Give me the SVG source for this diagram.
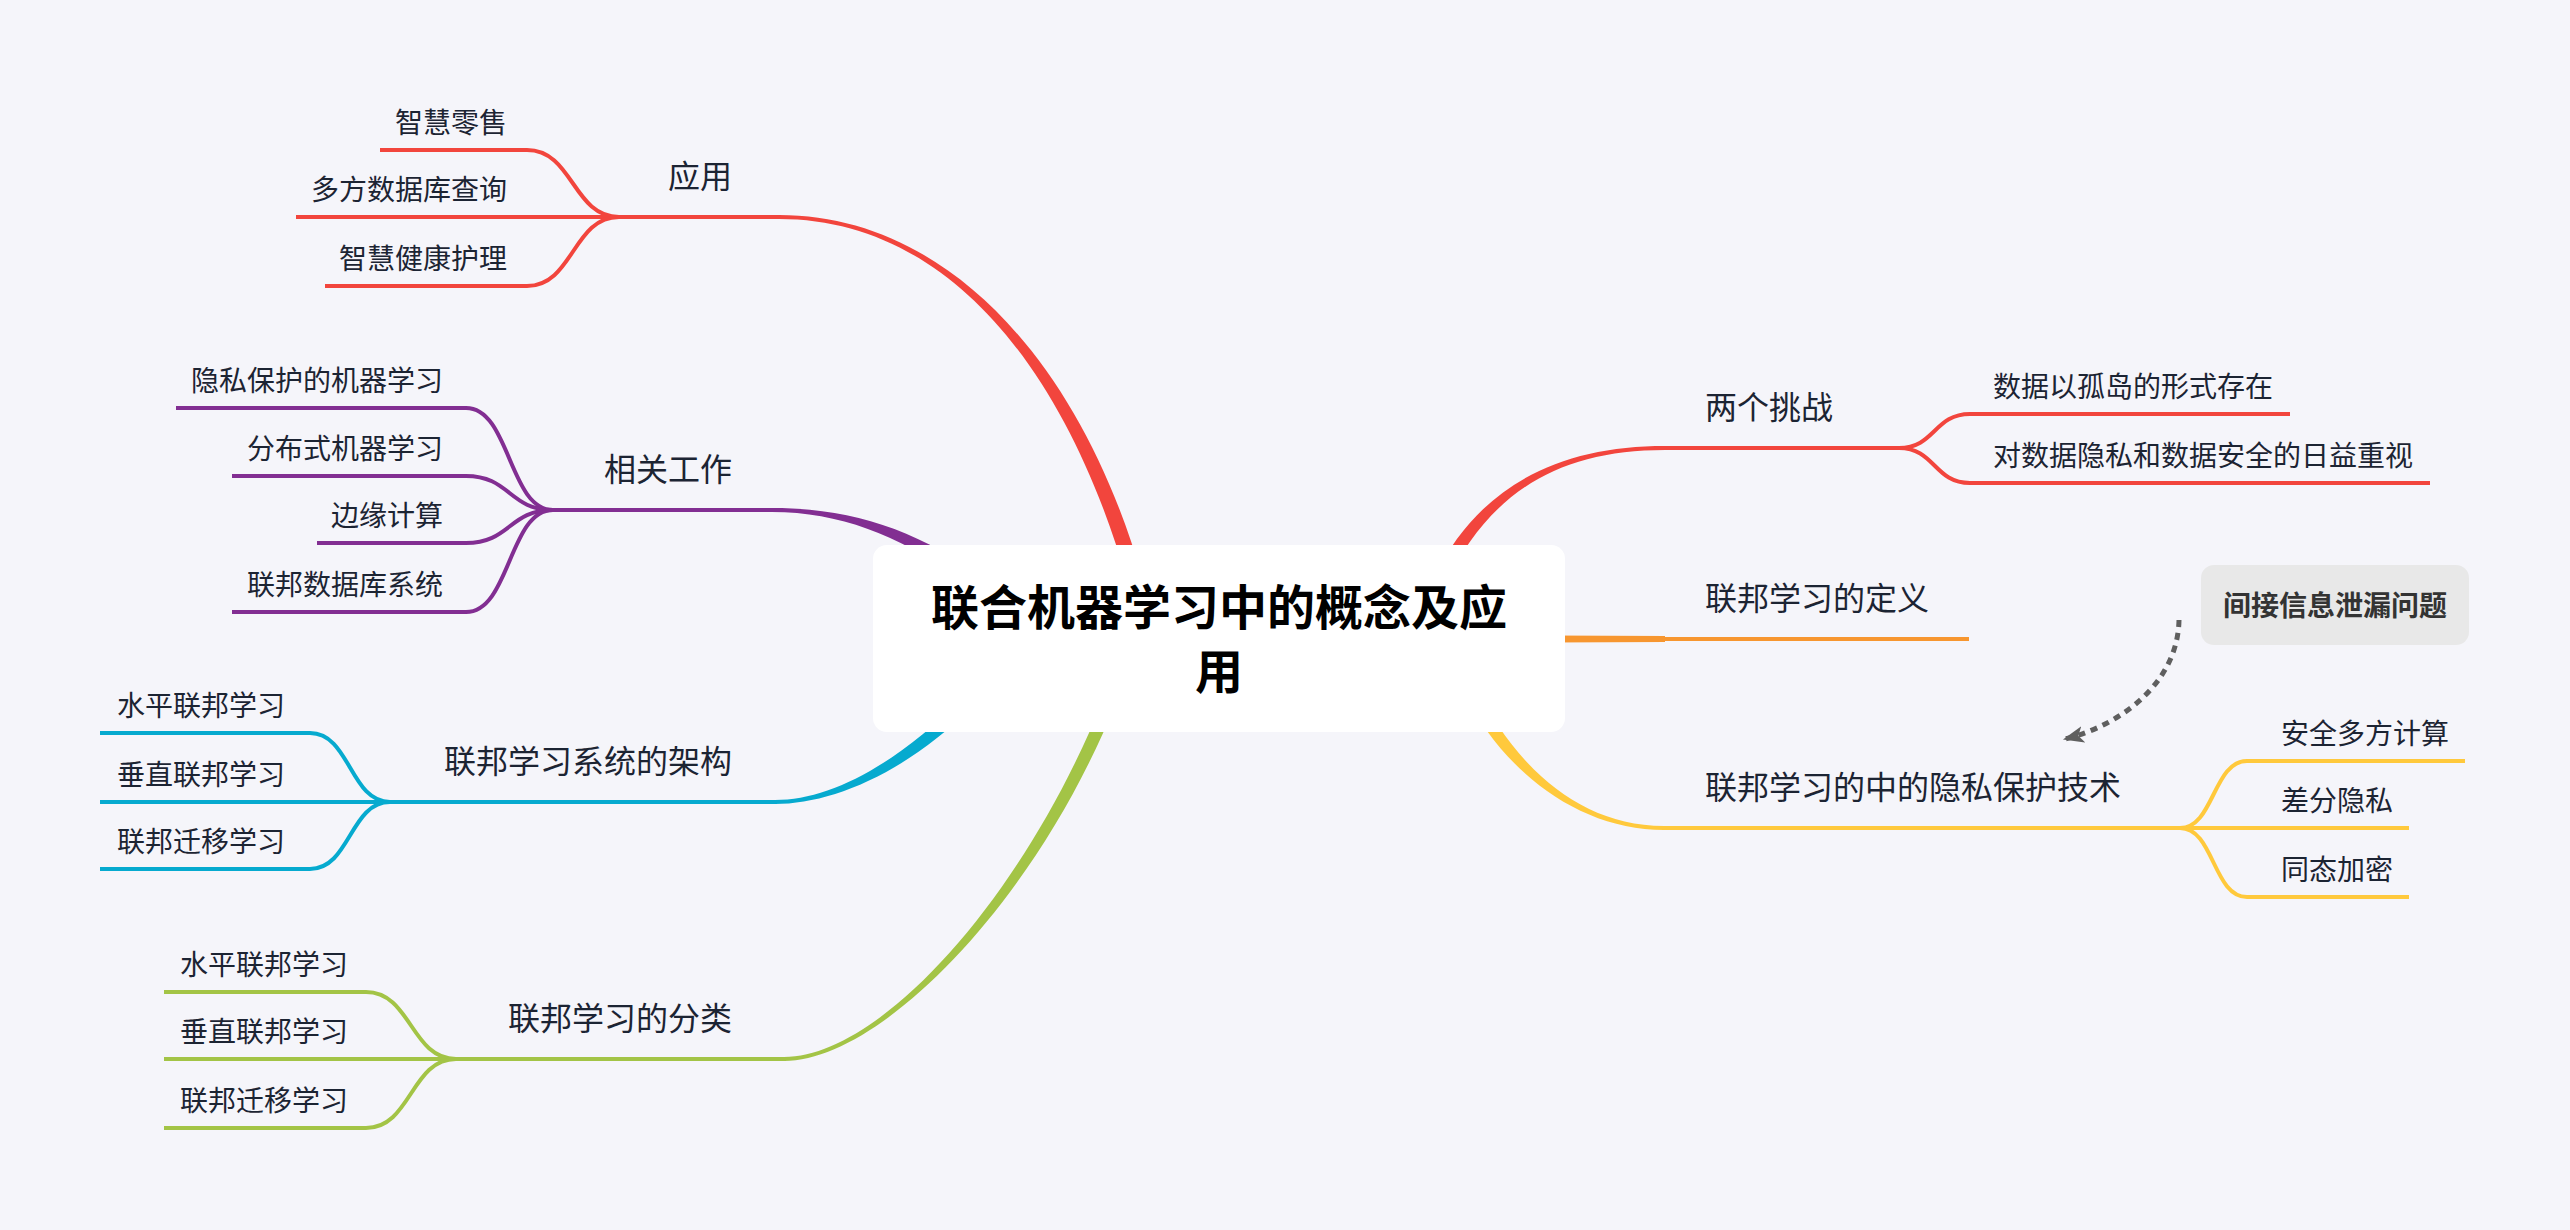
<svg xmlns="http://www.w3.org/2000/svg" width="2570" height="1230" viewBox="0 0 2570 1230">
<defs>
<style>
.t{font-family:"Noto Sans CJK SC","Noto Sans",sans-serif;fill:#1c2433}
.main{font-size:32px}
.sub{font-size:28px}
.ln{fill:none;stroke-width:4;stroke-linecap:butt}
.red{stroke:#f2453d}.redf{fill:#f2453d}
.pur{stroke:#822e92}.purf{fill:#822e92}
.cya{stroke:#06aacf}.cyaf{fill:#06aacf}
.grn{stroke:#a3c446}.grnf{fill:#a3c446}
.org{stroke:#f7962f}.orgf{fill:#f7962f}
.yel{stroke:#ffc93c}.yelf{fill:#ffc93c}
</style>
<marker id="ah" viewBox="0 0 20 16" refX="18" refY="8" markerWidth="21" markerHeight="17" markerUnits="userSpaceOnUse" orient="auto">
<path d="M0,0 L20,8 L0,16 L5,8 Z" fill="#5f5f5f"/>
</marker>
</defs>
<rect x="0" y="0" width="2570" height="1230" fill="#f5f5fa"/>
<g id="connectors">
<path class="redf" d="M779,219 C950,219 1067.8,372.8 1127.8,582.8 L1142.2,577.2 C1082.2,367.2 950,215 779,215 Z"/>
<path class="ln red" d="M619,217 H781"/>
<path class="ln red" d="M380,150 H527 C573,150 573,217 619,217"/>
<path class="ln red" d="M296,217 H619"/>
<path class="ln red" d="M325,286 H527 C573,286 573,217 619,217"/>
<path class="purf" d="M772,512 C840,512 896.4,535.4 956.4,575.4 L963.6,564.6 C903.6,524.6 840,508 772,508 Z"/>
<path class="ln pur" d="M553,510 H774"/>
<path class="ln pur" d="M176,408 H466 C510,408 509,510 553,510"/>
<path class="ln pur" d="M232,476 H466 C510,476 509,510 553,510"/>
<path class="ln pur" d="M317,543 H466 C510,543 509,510 553,510"/>
<path class="ln pur" d="M232,612 H466 C510,612 509,510 553,510"/>
<path class="cyaf" d="M775,804 C830,804 904.6,774.6 974.6,704.6 L965.4,695.4 C895.4,765.4 830,800 775,800 Z"/>
<path class="ln cya" d="M390,802 H777"/>
<path class="ln cya" d="M100,733 H310 C350,733 350,802 390,802"/>
<path class="ln cya" d="M100,802 H390"/>
<path class="ln cya" d="M100,869 H310 C350,869 350,802 390,802"/>
<path class="grnf" d="M784,1061 C880,1061 1036,902.4 1116,702.4 L1104,697.6 C1024,897.6 880,1057 784,1057 Z"/>
<path class="ln grn" d="M456,1059 H786"/>
<path class="ln grn" d="M164,992 H366 C411,992 411,1059 456,1059"/>
<path class="ln grn" d="M164,1059 H456"/>
<path class="ln grn" d="M164,1128 H366 C411,1128 411,1059 456,1059"/>
<path class="redf" d="M1665,446 C1560,446 1479.2,485.1 1434.2,577.1 L1445.8,582.9 C1490.8,490.9 1560,450 1665,450 Z"/>
<path class="ln red" d="M1663,448 H1899"/>
<path class="ln red" d="M1899,448 C1935,448 1934,414 1970,414 H2290"/>
<path class="ln red" d="M1899,448 C1935,448 1934,483 1970,483 H2430"/>
<path class="orgf" d="M1550,635.5 L1665,636 L1665,642 L1550,642.5 Z"/>
<path class="ln org" d="M1663,639 H1969"/>
<path class="yelf" d="M1664,826 C1580,826 1515.8,767.1 1475.8,687.1 L1464.2,692.9 C1504.2,772.9 1580,830 1664,830 Z"/>
<path class="ln yel" d="M1662,828 H2180"/>
<path class="ln yel" d="M2180,828 C2214,828 2213,761 2247,761 H2465"/>
<path class="ln yel" d="M2180,828 H2409"/>
<path class="ln yel" d="M2180,828 C2214,828 2213,897 2247,897 H2409"/>
<path d="M2179,620 C2178,680 2125,724 2065,739" fill="none" stroke="#5f5f5f" stroke-width="5" stroke-dasharray="7 6" marker-end="url(#ah)"/>
</g>
<g id="root">
<rect x="873" y="545" width="692" height="187" rx="14" fill="#ffffff"/>
<text x="1219" y="625" text-anchor="middle" font-family="'Noto Sans CJK SC','Noto Sans',sans-serif" font-size="48" font-weight="bold" fill="#000">联合机器学习中的概念及应</text>
<text x="1219" y="689" text-anchor="middle" font-family="'Noto Sans CJK SC','Noto Sans',sans-serif" font-size="48" font-weight="bold" fill="#000">用</text>
</g>
<g id="topic-yingyong">
<text class="t main" x="732" y="188" text-anchor="end">应用</text>
<text class="t sub" x="507" y="133" text-anchor="end">智慧零售</text>
<text class="t sub" x="507" y="200" text-anchor="end">多方数据库查询</text>
<text class="t sub" x="507" y="269" text-anchor="end">智慧健康护理</text>
</g>
<g id="topic-xiangguan">
<text class="t main" x="732" y="481" text-anchor="end">相关工作</text>
<text class="t sub" x="443" y="391" text-anchor="end">隐私保护的机器学习</text>
<text class="t sub" x="443" y="459" text-anchor="end">分布式机器学习</text>
<text class="t sub" x="443" y="526" text-anchor="end">边缘计算</text>
<text class="t sub" x="443" y="595" text-anchor="end">联邦数据库系统</text>
</g>
<g id="topic-jiagou">
<text class="t main" x="732" y="773" text-anchor="end">联邦学习系统的架构</text>
<text class="t sub" x="117" y="716">水平联邦学习</text>
<text class="t sub" x="117" y="785">垂直联邦学习</text>
<text class="t sub" x="117" y="852">联邦迁移学习</text>
</g>
<g id="topic-fenlei">
<text class="t main" x="732" y="1030" text-anchor="end">联邦学习的分类</text>
<text class="t sub" x="180" y="975">水平联邦学习</text>
<text class="t sub" x="180" y="1042">垂直联邦学习</text>
<text class="t sub" x="180" y="1111">联邦迁移学习</text>
</g>
<g id="topic-tiaozhan">
<text class="t main" x="1705" y="419">两个挑战</text>
<text class="t sub" x="1993" y="397">数据以孤岛的形式存在</text>
<text class="t sub" x="1993" y="466">对数据隐私和数据安全的日益重视</text>
</g>
<g id="topic-dingyi">
<text class="t main" x="1705" y="610">联邦学习的定义</text>
</g>
<g id="topic-yinsi">
<text class="t main" x="1705" y="799">联邦学习的中的隐私保护技术</text>
<text class="t sub" x="2281" y="744">安全多方计算</text>
<text class="t sub" x="2281" y="811">差分隐私</text>
<text class="t sub" x="2281" y="880">同态加密</text>
</g>
<g id="floating">
<rect x="2201" y="565" width="268" height="80" rx="13" fill="#e8e8e8"/>
<text x="2335" y="616" text-anchor="middle" font-family="'Noto Sans CJK SC','Noto Sans',sans-serif" font-size="28" font-weight="bold" fill="#333333">间接信息泄漏问题</text>
</g>
</svg>
